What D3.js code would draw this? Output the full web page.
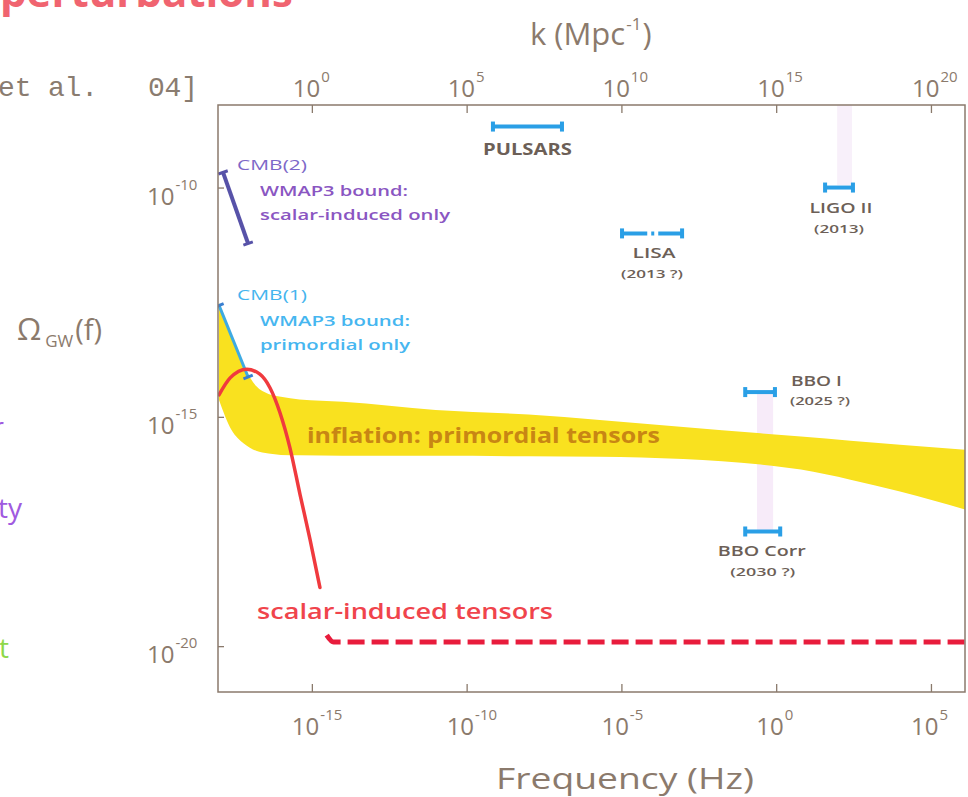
<!DOCTYPE html>
<html>
<head>
<meta charset="utf-8">
<script src="https://cdn.jsdelivr.net/npm/d3@7"></script>
<style>
  html, body { margin: 0; padding: 0; background: #ffffff; }
  svg { display: block; font-family: "Open Sans", "DejaVu Sans", sans-serif; }
</style>
</head>
<body>
<svg id="chart" width="968" height="797"></svg>
<script>
// ---- data (all values are log10) ----
const freqTicks  = [-15, -10, -5, 0, 5];     // Frequency (Hz)
const kTicks     = [0, 5, 10, 15, 20];       // k (Mpc^-1)
const omegaTicks = [-20, -15, -10];          // Omega_GW(f)

// inflation band: primordial tensors (upper / lower envelope)
const bandLogF  = [-18, -17.6, -17.2, -16.8, -16.4, -16.0, -15.4, -14, -11, -8, -5.7, -3, -0.5, 0.8, 2.4, 4, 6.1];
const bandUpper = [-12.52, -13.20, -13.88, -14.33, -14.50, -14.56, -14.62, -14.67, -14.85, -14.95, -15.07, -15.22, -15.36, -15.43, -15.52, -15.61, -15.72];
const bandLower = [-14.63, -15.28, -15.58, -15.74, -15.80, -15.83, -15.84, -15.85, -15.85, -15.86, -15.87, -15.92, -16.04, -16.15, -16.37, -16.63, -17.02];

// scalar-induced tensors: bump, then the flat floor
const scalarLogF  = [-18.0, -17.64, -17.10, -16.68, -16.35, -16.03, -15.71, -15.38, -15.06, -14.74];
const scalarOmega = [-14.52, -14.15, -13.96, -14.07, -14.37, -14.91, -15.67, -16.70, -17.67, -18.72];
const floorLogF   = [-14.52, -14.30, 6.1];
const floorOmega  = [-19.76, -19.91, -19.91];

// CMB bounds (WMAP3)
const cmbNames   = ["CMB(2)", "CMB(1)"];
const cmbLogF    = [[-17.87, -17.06], [-18.0, -17.06]];
const cmbOmega   = [[-9.67, -11.22], [-12.57, -14.13]];
const cmbNotes   = [["WMAP3 bound:", "scalar-induced only"], ["WMAP3 bound:", "primordial only"]];

// detector sensitivities
const detNames  = ["PULSARS", "LISA", "LIGO II", "BBO I", "BBO Corr"];
const detYears  = ["", "(2013 ?)", "(2013)", "(2025 ?)", "(2030 ?)"];
const detFmin   = [-9.15, -4.98, 1.58, -1.0, -1.0];
const detFmax   = [-6.92, -3.04, 2.48, -0.04, 0.13];
const detOmega  = [-8.67, -11.0, -10.0, -14.46, -17.5];

// ---- layout ----
const svg = d3.select("#chart");
const L = 218, R = 965, T = 105, B = 692;
const axisColor = "#8a7a6c";
const textColor = "#8b7a6c";
const p10 = v => Math.pow(10, v);

const x = d3.scaleLog().domain([p10(-18), p10(6.1)]).range([L + 1, R]);
const k = d3.scaleLog().domain([p10(-3), p10(21.1)]).range([L + 1, R]);
const y = d3.scaleLog().domain([p10(-21), p10(-8.2)]).range([B, T]);
const X = v => x(p10(v));
const Y = v => y(p10(v));

// surrounding slide text
svg.append("text").attr("x", 0).attr("y", 7)
  .attr("font-size", 42).attr("font-weight", 700).attr("fill", "#f06470")
  .text("perturbations");
svg.append("text").attr("x", -2).attr("y", 96)
  .attr("font-family", "'Liberation Mono', 'DejaVu Sans Mono', monospace")
  .attr("font-size", 28).attr("fill", "#8a7c70").attr("xml:space", "preserve")
  .attr("textLength", 200).attr("lengthAdjust", "spacing")
  .text("et al.   04]");
svg.append("text").attr("x", 4).attr("y", 437).attr("text-anchor", "end")
  .attr("font-size", 28).attr("fill", "#a05ae0").text("r");
svg.append("text").attr("x", 22).attr("y", 518).attr("text-anchor", "end")
  .attr("font-size", 28).attr("fill", "#a05ae0").text("ty");
svg.append("text").attr("x", 9).attr("y", 658).attr("text-anchor", "end")
  .attr("font-size", 28).attr("fill", "#8ed84a").text("t");

const plot = svg.append("g");
plot.append("clipPath").attr("id", "clip")
  .append("rect").attr("x", L).attr("y", T).attr("width", R - L).attr("height", B - T);
const inner = plot.append("g").attr("clip-path", "url(#clip)");

// faint detector frequency strips
const strip = (f0, f1, o0, o1, op) => inner.append("rect")
  .attr("x", X(f0)).attr("width", X(f1) - X(f0))
  .attr("y", Y(o0)).attr("height", Y(o1) - Y(o0))
  .attr("fill", "#f3e3f6").attr("opacity", op);
strip(1.97, 2.45, -8.2, -9.95, 0.55);
strip(-0.62, -0.1, -14.46, -17.5, 0.7);

// inflation band
const bandData = bandLogF.map((f, i) => ({ f, hi: bandUpper[i], lo: bandLower[i] }));
inner.append("path").datum(bandData)
  .attr("fill", "#f9e11f")
  .attr("d", d3.area().curve(d3.curveMonotoneX)
    .x(d => X(d.f)).y0(d => Y(d.lo)).y1(d => Y(d.hi)));

// CMB bounds
const cmbColors = ["#5752a8", "#3eaae2"];
const cmbCap = ["#5752a8", "#3a7fd0"];
cmbNames.forEach((name, i) => {
  const x0 = X(cmbLogF[i][0]), y0 = Y(cmbOmega[i][0]);
  const x1 = X(cmbLogF[i][1]), y1 = Y(cmbOmega[i][1]);
  inner.append("line").attr("x1", x0).attr("y1", y0).attr("x2", x1).attr("y2", y1)
    .attr("stroke", cmbColors[i]).attr("stroke-width", i === 0 ? 4 : 3);
  const len = Math.hypot(x1 - x0, y1 - y0);
  const nx = -(y1 - y0) / len, ny = (x1 - x0) / len;
  [[x0, y0], [x1, y1]].forEach(([cx, cy]) => {
    inner.append("line")
      .attr("x1", cx - nx * 5).attr("y1", cy - ny * 5)
      .attr("x2", cx + nx * 5).attr("y2", cy + ny * 5)
      .attr("stroke", cmbCap[i]).attr("stroke-width", 3);
  });
});

// scalar-induced tensors
inner.append("path").datum(scalarLogF.map((f, i) => [f, scalarOmega[i]]))
  .attr("fill", "none").attr("stroke", "#f03a3e").attr("stroke-width", 3.5)
  .attr("stroke-linecap", "round")
  .attr("d", d3.line().curve(d3.curveMonotoneX).x(d => X(d[0])).y(d => Y(d[1])));
inner.append("path").datum(floorLogF.map((f, i) => [f, floorOmega[i]]))
  .attr("fill", "none").attr("stroke", "#e81c3c").attr("stroke-width", 5)
  .attr("stroke-dasharray", "17,7")
  .attr("d", d3.line().curve(d3.curveMonotoneX).x(d => X(d[0])).y(d => Y(d[1])));

// detectors
const detColor = "#2a9fe6";
detNames.forEach((name, i) => {
  const x0 = X(detFmin[i]), x1 = X(detFmax[i]), yy = Y(detOmega[i]);
  const bar = inner.append("line").attr("x1", x0).attr("x2", x1).attr("y1", yy).attr("y2", yy)
    .attr("stroke", detColor).attr("stroke-width", 4);
  if (name === "LISA") bar.attr("stroke-dasharray", `${(x1 - x0) * 0.42},4,3,4,${x1 - x0}`);
  [x0, x1].forEach(cx => inner.append("rect")
    .attr("x", cx - 2).attr("y", yy - 5).attr("width", 4).attr("height", 10)
    .attr("fill", detColor));
});

// ---- frame and axes ----
const frame = svg.append("g").attr("fill", "none").attr("stroke", axisColor).attr("stroke-width", 1.5);
frame.append("rect").attr("x", L).attr("y", T).attr("width", R - L).attr("height", B - T);

const styleAxis = g => {
  g.select(".domain").remove();
  g.selectAll(".tick line").attr("stroke", axisColor).attr("stroke-width", 1.3);
  g.selectAll(".tick text").remove();
};
svg.append("g").attr("transform", `translate(0,${B})`)
  .call(d3.axisTop(x).tickValues(freqTicks.map(p10)).tickSize(8).tickSizeOuter(0))
  .call(styleAxis);
svg.append("g").attr("transform", `translate(0,${T})`)
  .call(d3.axisBottom(k).tickValues(kTicks.map(p10)).tickSize(8).tickSizeOuter(0))
  .call(styleAxis);
svg.append("g").attr("transform", `translate(${L},0)`)
  .call(d3.axisRight(y).tickValues(omegaTicks.map(p10)).tickSize(6).tickSizeOuter(0))
  .call(styleAxis);

// power-of-ten tick labels
const powLabel = (px, py, e) => {
  const t = svg.append("text").attr("x", px).attr("y", py).attr("fill", textColor);
  t.append("tspan").attr("font-size", 24).text("10");
  t.append("tspan").attr("font-size", 15).attr("dy", -15).attr("dx", 1).text(e);
};
freqTicks.forEach(e => powLabel(x(p10(e)) - 20, 735, e));
kTicks.forEach(e => powLabel(k(p10(e)) - 19, 97, e));
omegaTicks.forEach(e => powLabel(147, y(p10(e)) + 17, e));

// axis titles
const kt = svg.append("text").attr("x", 530).attr("y", 45).attr("fill", textColor).attr("font-size", 31);
kt.append("tspan").text("k (Mpc");
kt.append("tspan").attr("font-size", 17).attr("dy", -15).attr("dx", 1).text("-1");
kt.append("tspan").attr("dy", 15).attr("dx", 1).text(")");

svg.append("text").attr("x", 625).attr("y", 789).attr("text-anchor", "middle")
  .attr("fill", textColor).attr("font-size", 30).attr("textLength", 258)
  .attr("lengthAdjust", "spacingAndGlyphs").text("Frequency (Hz)");

const om = svg.append("text").attr("x", 17).attr("y", 340).attr("fill", textColor);
om.append("tspan").attr("font-size", 31).text("Ω");
om.append("tspan").attr("font-size", 17).attr("dy", 7).attr("dx", 4).text("GW");
om.append("tspan").attr("font-size", 29).attr("dy", -7).attr("dx", 2).text("(f)");

// ---- annotations ----
const label = (txt, px, py, size, weight, color, anchor, len) => {
  const t = svg.append("text").attr("x", px).attr("y", py)
    .attr("font-size", size).attr("font-weight", weight).attr("fill", color)
    .attr("text-anchor", anchor).text(txt);
  if (len) t.attr("textLength", len).attr("lengthAdjust", "spacingAndGlyphs");
  return t;
};

// CMB labels
const cmbLabelColor = ["#7d68c8", "#44b4ee"];
const cmbNoteColor = ["#8a56c2", "#46b6f0"];
const cmbNoteLen = [[148, 190], [150, 150]];
cmbNames.forEach((name, i) => {
  const sy = Y(cmbOmega[i][0]);
  const base = i === 0 ? sy - 2 : sy - 5;
  label(name, 237, base, 14, 400, cmbLabelColor[i], "start", 70);
  label(cmbNotes[i][0], 260, base + 26, 14, 600, cmbNoteColor[i], "start", cmbNoteLen[i][0]);
  label(cmbNotes[i][1], 260, base + 50, 14, 600, cmbNoteColor[i], "start", cmbNoteLen[i][1]);
});

// detector labels
const detText = "#6c5f57";
detNames.forEach((name, i) => {
  const cx = (X(detFmin[i]) + X(detFmax[i])) / 2, yy = Y(detOmega[i]);
  if (name === "PULSARS") {
    label(name, cx, yy + 28, 16, 700, detText, "middle", 89);
  } else if (name === "BBO I") {
    label(name, X(detFmax[i]) + 16, yy - 6, 14, 600, detText, "start", 51);
    label(detYears[i], X(detFmax[i]) + 15, yy + 13, 11, 600, detText, "start", 60);
  } else {
    const wide = { "LISA": [43, 62], "LIGO II": [63, 50], "BBO Corr": [88, 65] }[name];
    label(name, cx + (name === "BBO Corr" ? -1 : 2), yy + 25, 14, 600, detText, "middle", wide[0]);
    label(detYears[i], cx, yy + 45, 11, 600, detText, "middle", wide[1]);
  }
});

// curve labels
label("inflation: primordial tensors", X(-15.16), Y(-15.57), 21, 700, "#c88614", "start", 353);
label("scalar-induced tensors", X(-16.77), Y(-19.41), 22, 600, "#f0444c", "start", 296);
</script>
</body>
</html>
